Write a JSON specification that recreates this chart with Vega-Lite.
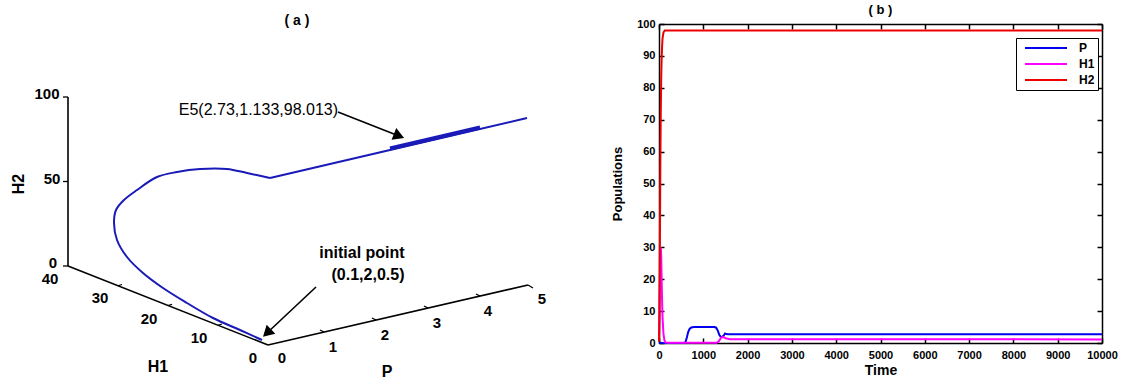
{
  "$schema": "https://vega.github.io/schema/vega-lite/v6.json",
  "padding": {"left": 0, "top": 4, "right": 0, "bottom": 0},
  "bounds": "flush",
  "spacing": 99,
  "background": "white",
  "config": {"view": {"stroke": null}, "font": "Liberation Sans", "axis": {"domainWidth": 1.5, "tickWidth": 1.5}},
  "datasets": {
    "axes3d": [
      {"u": -200, "v": 79, "u2": -200, "v2": 248},
      {"u": -200, "v": 79, "u2": 0, "v2": 0},
      {"u": 0, "v": 0, "u2": 260, "v2": 60}
    ],
    "ticks3d": [
      {"u": -200, "v": 248, "u2": -205, "v2": 248},
      {"u": -200, "v": 163.5, "u2": -205, "v2": 163.5},
      {"u": -200, "v": 79, "u2": -205, "v2": 79},
      {"u": -150, "v": 59.25, "u2": -146, "v2": 60.5},
      {"u": -100, "v": 39.5, "u2": -96, "v2": 40.7},
      {"u": -50, "v": 19.75, "u2": -46, "v2": 21},
      {"u": 56, "v": 13, "u2": 52, "v2": 15},
      {"u": 108, "v": 25, "u2": 104, "v2": 27},
      {"u": 160, "v": 37, "u2": 156, "v2": 39},
      {"u": 212, "v": 49, "u2": 208, "v2": 51},
      {"u": 260, "v": 60, "u2": 265, "v2": 57}
    ],
    "curve": [
      {"i": 0, "u": -6, "v": 5},
      {"i": 1, "u": -28, "v": 15},
      {"i": 2, "u": -55, "v": 27},
      {"i": 3, "u": -81, "v": 42},
      {"i": 4, "u": -105, "v": 57},
      {"i": 5, "u": -125, "v": 72},
      {"i": 6, "u": -141, "v": 88},
      {"i": 7, "u": -151, "v": 105},
      {"i": 8, "u": -154, "v": 122},
      {"i": 9, "u": -152, "v": 135},
      {"i": 10, "u": -144, "v": 145},
      {"i": 11, "u": -131, "v": 155},
      {"i": 12, "u": -111, "v": 168},
      {"i": 13, "u": -91, "v": 173},
      {"i": 14, "u": -68, "v": 176},
      {"i": 15, "u": -41, "v": 176},
      {"i": 16, "u": -21, "v": 172},
      {"i": 17, "u": 2, "v": 167}
    ],
    "tail": [
      {"i": 0, "u": 2, "v": 167},
      {"i": 1, "u": 122, "v": 195},
      {"i": 2, "u": 259, "v": 227}
    ],
    "band": [{"u": 122, "v": 196.5, "u2": 212, "v2": 217.5}],
    "arrows": [
      {"u": 70, "v": 233, "u2": 131, "v2": 209},
      {"u": 48, "v": 58, "u2": -1, "v2": 12}
    ],
    "heads": [
      {"u": 131, "v": 209, "name": "E5"},
      {"u": -1, "v": 12, "name": "init"}
    ],
    "ticklabels": [
      {"u": -221, "v": 251, "label": "100"},
      {"u": -216, "v": 166, "label": "50"},
      {"u": -215, "v": 82, "label": "0"},
      {"u": -218, "v": 66, "label": "40"},
      {"u": -168, "v": 47, "label": "30"},
      {"u": -119, "v": 26, "label": "20"},
      {"u": -69, "v": 7, "label": "10"},
      {"u": -15, "v": -13, "label": "0"},
      {"u": 14, "v": -13, "label": "0"},
      {"u": 65, "v": -2, "label": "1"},
      {"u": 117, "v": 10, "label": "2"},
      {"u": 169, "v": 22, "label": "3"},
      {"u": 220, "v": 34, "label": "4"},
      {"u": 274, "v": 46, "label": "5"}
    ],
    "titles3d": [
      {"u": -110, "v": -22, "label": "H1"},
      {"u": 119, "v": -27, "label": "P"}
    ],
    "titleH2": [{"u": -249, "v": 161, "label": "H2"}],
    "noteE5": [{"u": 70, "v": 235, "label": "E5(2.73,1.133,98.013)"}],
    "noteInit": [
      {"u": 94, "v": 92, "label": "initial point"},
      {"u": 100, "v": 70, "label": "(0.1,2,0.5)"}
    ],
    "series": [
      {"t": 0, "v": 0.1, "s": "P"},
      {"t": 100, "v": 0.02, "s": "P"},
      {"t": 580, "v": 0.02, "s": "P"},
      {"t": 600, "v": 0.4, "s": "P"},
      {"t": 630, "v": 1.8, "s": "P"},
      {"t": 660, "v": 3.5, "s": "P"},
      {"t": 690, "v": 4.4, "s": "P"},
      {"t": 730, "v": 4.85, "s": "P"},
      {"t": 790, "v": 5, "s": "P"},
      {"t": 1250, "v": 5, "s": "P"},
      {"t": 1290, "v": 4.8, "s": "P"},
      {"t": 1330, "v": 3.8, "s": "P"},
      {"t": 1360, "v": 2.6, "s": "P"},
      {"t": 1390, "v": 2.0, "s": "P"},
      {"t": 1420, "v": 1.9, "s": "P"},
      {"t": 1460, "v": 2.3, "s": "P"},
      {"t": 1490, "v": 3.0, "s": "P"},
      {"t": 1520, "v": 2.8, "s": "P"},
      {"t": 1560, "v": 2.73, "s": "P"},
      {"t": 10000, "v": 2.73, "s": "P"},
      {"t": 0, "v": 2, "s": "H1"},
      {"t": 10, "v": 10, "s": "H1"},
      {"t": 20, "v": 20, "s": "H1"},
      {"t": 30, "v": 28, "s": "H1"},
      {"t": 40, "v": 30, "s": "H1"},
      {"t": 50, "v": 27, "s": "H1"},
      {"t": 60, "v": 20, "s": "H1"},
      {"t": 70, "v": 13, "s": "H1"},
      {"t": 80, "v": 8, "s": "H1"},
      {"t": 100, "v": 3, "s": "H1"},
      {"t": 120, "v": 1, "s": "H1"},
      {"t": 140, "v": 0.2, "s": "H1"},
      {"t": 200, "v": 0.05, "s": "H1"},
      {"t": 1300, "v": 0.05, "s": "H1"},
      {"t": 1350, "v": 0.5, "s": "H1"},
      {"t": 1400, "v": 1.6, "s": "H1"},
      {"t": 1450, "v": 1.9, "s": "H1"},
      {"t": 1500, "v": 1.5, "s": "H1"},
      {"t": 1600, "v": 1.2, "s": "H1"},
      {"t": 2000, "v": 1.15, "s": "H1"},
      {"t": 10000, "v": 1.133, "s": "H1"},
      {"t": 0, "v": 0.5, "s": "H2"},
      {"t": 10, "v": 8, "s": "H2"},
      {"t": 20, "v": 30, "s": "H2"},
      {"t": 30, "v": 55, "s": "H2"},
      {"t": 40, "v": 72, "s": "H2"},
      {"t": 50, "v": 83, "s": "H2"},
      {"t": 60, "v": 89, "s": "H2"},
      {"t": 70, "v": 93, "s": "H2"},
      {"t": 80, "v": 95.5, "s": "H2"},
      {"t": 100, "v": 97.3, "s": "H2"},
      {"t": 130, "v": 98, "s": "H2"},
      {"t": 10000, "v": 98, "s": "H2"}
    ]
  },
  "hconcat": [
    {
      "width": 560,
      "height": 357,
      "title": {"text": "( a )", "fontSize": 14, "fontWeight": "bold", "font": "Liberation Sans", "offset": -4, "dx": 17, "anchor": "middle", "color": "black"},
      "encoding": {
        "x": {"field": "u", "type": "quantitative", "scale": {"domain": [-268, 292], "nice": false, "zero": false}, "axis": null},
        "y": {"field": "v", "type": "quantitative", "scale": {"domain": [-36, 321], "nice": false, "zero": false}, "axis": null}
      },
      "layer": [
        {"data": {"name": "axes3d"}, "mark": {"type": "rule", "strokeWidth": 1.6, "color": "black"},
         "encoding": {"x2": {"field": "u2"}, "y2": {"field": "v2"}}},
        {"data": {"name": "ticks3d"}, "mark": {"type": "rule", "strokeWidth": 1.3, "color": "black"},
         "encoding": {"x2": {"field": "u2"}, "y2": {"field": "v2"}}},
        {"data": {"name": "curve"}, "mark": {"type": "line", "color": "#1a1ab8", "strokeWidth": 2, "interpolate": "catmull-rom"},
         "encoding": {"order": {"field": "i", "type": "quantitative"}}},
        {"data": {"name": "tail"}, "mark": {"type": "line", "color": "#1a1ab8", "strokeWidth": 2},
         "encoding": {"order": {"field": "i", "type": "quantitative"}}},
        {"data": {"name": "band"}, "mark": {"type": "rule", "strokeWidth": 4, "color": "#1a1ab8"},
         "encoding": {"x2": {"field": "u2"}, "y2": {"field": "v2"}}},
        {"data": {"name": "arrows"}, "mark": {"type": "rule", "strokeWidth": 1.6, "color": "black"},
         "encoding": {"x2": {"field": "u2"}, "y2": {"field": "v2"}}},
        {"data": {"name": "heads"}, "transform": [{"filter": "datum.name === 'E5'"}],
         "mark": {"type": "point", "shape": "triangle-right", "filled": true, "color": "black", "opacity": 1, "size": 160, "angle": 21.8}},
        {"data": {"name": "heads"}, "transform": [{"filter": "datum.name === 'init'"}],
         "mark": {"type": "point", "shape": "triangle-right", "filled": true, "color": "black", "opacity": 1, "size": 160, "angle": 136.7}},
        {"data": {"name": "ticklabels"}, "mark": {"type": "text", "font": "Liberation Sans Narrow, Liberation Sans", "fontWeight": "bold", "fontSize": 15, "color": "black", "align": "center", "baseline": "middle"},
         "encoding": {"text": {"field": "label"}}},
        {"data": {"name": "titles3d"}, "mark": {"type": "text", "fontWeight": "bold", "fontSize": 16, "color": "black", "align": "center", "baseline": "middle"},
         "encoding": {"text": {"field": "label"}}},
        {"data": {"name": "titleH2"}, "mark": {"type": "text", "fontWeight": "bold", "fontSize": 16, "color": "black", "align": "center", "baseline": "middle", "angle": 270},
         "encoding": {"text": {"field": "label"}}},
        {"data": {"name": "noteE5"}, "mark": {"type": "text", "fontSize": 16, "color": "black", "align": "right", "baseline": "middle"},
         "encoding": {"text": {"field": "label"}}},
        {"data": {"name": "noteInit"}, "mark": {"type": "text", "fontWeight": "bold", "fontSize": 16, "color": "black", "align": "center", "baseline": "middle"},
         "encoding": {"text": {"field": "label"}}}
      ]
    },
    {
      "width": 443,
      "height": 319,
      "title": {"text": "( b )", "fontSize": 13, "fontWeight": "bold", "font": "Liberation Sans", "offset": 1, "color": "black"},
      "data": {"name": "series"},
      "layer": [
        {
          "mark": {"type": "line", "strokeWidth": 2},
          "encoding": {
            "x": {"field": "t", "type": "quantitative", "scale": {"domain": [0, 10000], "nice": false, "zero": false},
                  "axis": {"orient": "bottom", "values": [0,1000,2000,3000,4000,5000,6000,7000,8000,9000,10000], "grid": false, "tickSize": -5, "labelPadding": 11, "labelFontSize": 11, "labelFontWeight": "bold", "labelColor": "black", "domainColor": "black", "tickColor": "black", "labelFlush": false, "labelOverlap": false, "title": "Time", "titleFontSize": 14, "titleFontWeight": "bold", "titleColor": "black", "titlePadding": 3, "format": "d"}},
            "y": {"field": "v", "type": "quantitative", "scale": {"domain": [0, 100], "nice": false, "zero": true},
                  "axis": {"orient": "left", "values": [0,10,20,30,40,50,60,70,80,90,100], "grid": false, "tickSize": -5, "labelPadding": 9, "labelFontSize": 11, "labelFontWeight": "bold", "labelColor": "black", "domainColor": "black", "tickColor": "black", "labelFlush": false, "labelOverlap": false, "title": "Populations", "titleFontSize": 13, "titleFontWeight": "bold", "titleColor": "black", "titlePadding": 12}},
            "color": {"field": "s", "type": "nominal",
                      "scale": {"domain": ["P", "H1", "H2"], "range": ["#0000ee", "#ff00ff", "#ee0000"]},
                      "legend": {"orient": "none", "legendX": 1016, "legendY": 14, "title": null, "strokeColor": "black", "fillColor": "white", "padding": 3, "symbolType": "stroke", "symbolSize": 1764, "symbolStrokeWidth": 2, "clipHeight": 14, "rowPadding": 2, "symbolOffset": 5, "labelOffset": 11, "labelFontSize": 12, "labelFontWeight": "bold", "labelColor": "black", "cornerRadius": 0}}
          }
        },
        {
          "mark": {"type": "point", "opacity": 0},
          "encoding": {
            "x": {"field": "t", "type": "quantitative", "scale": {"domain": [0, 10000], "nice": false, "zero": false},
                  "axis": {"orient": "top", "values": [0,1000,2000,3000,4000,5000,6000,7000,8000,9000,10000], "grid": false, "tickSize": -5, "labels": false, "domainColor": "black", "tickColor": "black", "title": null}},
            "y": {"field": "v", "type": "quantitative", "scale": {"domain": [0, 100], "nice": false, "zero": true},
                  "axis": {"orient": "right", "values": [0,10,20,30,40,50,60,70,80,90,100], "grid": false, "tickSize": -5, "labels": false, "domainColor": "black", "tickColor": "black", "title": null}}
          }
        }
      ],
      "resolve": {"axis": {"x": "independent", "y": "independent"}}
    }
  ]
}
